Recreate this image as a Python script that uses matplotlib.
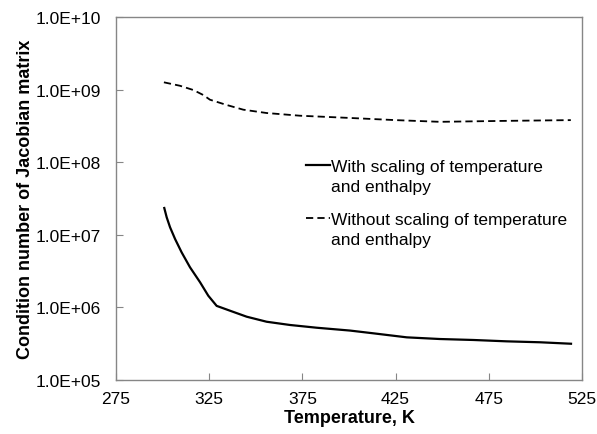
import math
import matplotlib
matplotlib.use("Agg")
import matplotlib.pyplot as plt
from matplotlib.ticker import FixedLocator, FuncFormatter, NullLocator
from matplotlib.legend_handler import HandlerLine2D

plt.rcParams['font.family'] = ['Liberation Sans', 'DejaVu Sans']

# Data
temp_scaled = [300.9, 302.2, 304.0, 306.7, 310.2, 314.7, 320.1, 324.5, 329.0, 336.2,
               345.1, 355.8, 368.3, 382.7, 400.5, 413, 431, 448.8, 466.7, 484.6, 502.5, 519.1]
cond_scaled = [2.34e7, 1.74e7, 1.27e7, 8.75e6, 5.74e6, 3.57e6, 2.22e6, 1.45e6, 1.05e6, 9.0e5,
               7.45e5, 6.35e5, 5.73e5, 5.25e5, 4.8e5, 4.4e5, 3.87e5, 3.67e5, 3.56e5, 3.41e5, 3.31e5, 3.16e5]

temp_unscaled = [300.7, 309.3, 316.5, 321.8, 325.4, 334.4, 343.3, 355.8, 373.7, 400.5, 425, 448.8, 480, 519]
cond_unscaled = [1.26e9, 1.13e9, 9.87e8, 8.43e8, 7.26e8, 6.14e8, 5.29e8, 4.76e8, 4.37e8, 4.07e8,
                 3.8e8, 3.6e8, 3.7e8, 3.8e8]

x_ticks = [275, 325, 375, 425, 475, 525]
y_ticks = [1e5, 1e6, 1e7, 1e8, 1e9, 1e10]

label_scaled = "With scaling of temperature\nand enthalpy"
label_unscaled = "Without scaling of temperature\nand enthalpy"


class FirstLineHandler(HandlerLine2D):
    """Place the legend line at the level of the first text line."""
    def create_artists(self, legend, orig_handle, xdescent, ydescent, width, height, fontsize, trans):
        arts = super().create_artists(legend, orig_handle, xdescent, ydescent, width, height, fontsize, trans)
        for a in arts:
            if hasattr(a, 'get_ydata'):
                a.set_ydata([y + fontsize * 0.68 for y in a.get_ydata()])
        return arts


fig = plt.figure(figsize=(5.97, 4.35), dpi=100)
ax = fig.add_axes([0.1943, 0.1241, 0.7806, 0.8345])

l1, = ax.plot(temp_scaled, cond_scaled, color='black', lw=1.6, label=label_scaled)
l2, = ax.plot(temp_unscaled, cond_unscaled, color='black', lw=1.3, ls=(0, (4, 2.3)), label=label_unscaled)

ax.set_yscale('log')
ax.set_xlim(275, 525)
ax.set_ylim(1e5, 1e10)
ax.xaxis.set_major_locator(FixedLocator(x_ticks))
ax.yaxis.set_major_locator(FixedLocator(y_ticks))
ax.yaxis.set_minor_locator(NullLocator())
ax.yaxis.set_major_formatter(FuncFormatter(lambda v, p: "1.0E+%02d" % round(math.log10(v))))

for s in ax.spines.values():
    s.set_color('#868686')
    s.set_linewidth(1.0)
ax.tick_params(axis='both', direction='in', length=5, width=0.8, color='#868686',
               labelsize=12.5, labelcolor='black')
ax.tick_params(axis='y', pad=11)
ax.tick_params(axis='x', pad=8)

ax.set_xlabel("Temperature, K", fontsize=13, fontweight='bold', labelpad=2)
ax.set_ylabel("Condition number of Jacobian matrix", fontsize=13, fontweight='bold', labelpad=1)

leg = ax.legend(loc='upper left', bbox_to_anchor=(0.408, 0.609), frameon=False,
                fontsize=12.5, handlelength=1.35, handletextpad=0.08, borderpad=0,
                borderaxespad=0, labelspacing=1.0,
                handler_map={l1: FirstLineHandler(), l2: FirstLineHandler()})
for t in leg.get_texts():
    t.set_linespacing(1.45)

fig.savefig("out.png", dpi=100)
